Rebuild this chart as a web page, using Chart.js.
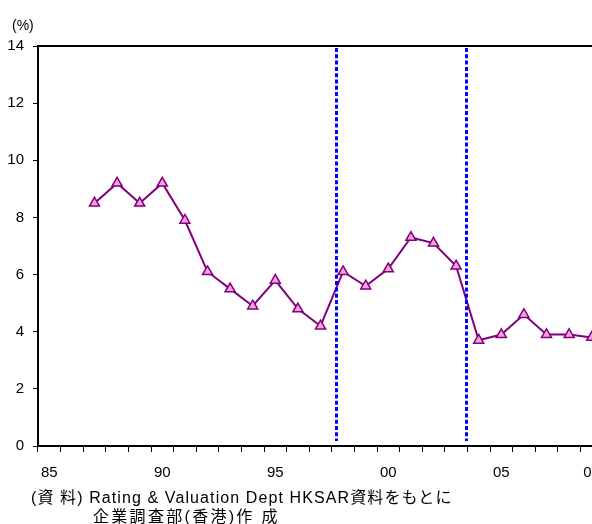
<!DOCTYPE html>
<html>
<head>
<meta charset="utf-8">
<script src="https://cdn.jsdelivr.net/npm/chart.js@4/dist/chart.umd.min.js"></script>
<style>
  html, body { margin: 0; padding: 0; background: #fff; overflow: hidden; width: 592px; height: 524px; }
  #wrap { position: relative; width: 592px; height: 524px; overflow: hidden; }
  #c { position: absolute; left: 0; top: 0; }
  .txt { position: absolute; white-space: pre; color: #000; line-height: 1; }
  #unit { left: 12px; top: 17px; font: 14px "Liberation Sans", "Noto Sans CJK JP", sans-serif; }
  .note { font: 16px "Liberation Sans", "Noto Sans CJK JP", sans-serif; }
  #note1 { left: 31px; top: 484px; letter-spacing: 1.1px; }
  #note2 { left: 93px; top: 503px; letter-spacing: 2.3px; }
</style>
</head>
<body>
<div id="wrap">
  <canvas id="c" width="620" height="524"></canvas>
  <div class="txt" id="unit">(%)</div>
  <div class="txt note" id="note1">(資 料) Rating &amp; Valuation Dept HKSAR資料をもとに</div>
  <div class="txt note" id="note2">企業調査部(香港)作 成</div>
</div>
<script>
// Years on the category axis (1985-2009)
const years = [1985, 1986, 1987, 1988, 1989, 1990, 1991, 1992, 1993, 1994,
               1995, 1996, 1997, 1998, 1999, 2000, 2001, 2002, 2003, 2004,
               2005, 2006, 2007, 2008, 2009];

// Rate (%) per year; no data for 1985-86
const rates = [null, null, 8.5, 9.2, 8.5, 9.2, 7.9, 6.1, 5.5, 4.9,
               5.8, 4.8, 4.2, 6.1, 5.6, 6.2, 7.3, 7.1, 6.3, 3.7,
               3.9, 4.6, 3.9, 3.9, 3.8];

// Years that get a label under the axis
const labeledYears = [1985, 1990, 1995, 2000, 2005, 2009];

// Vertical dotted event markers (fractional year positions)
const eventYears = [1997.7, 2003.45];

// Value axis range
const yMin = 0, yMax = 14, yStep = 2;

const frame = {
  id: 'frame',
  afterDatasetsDraw(chart) {
    const { ctx, chartArea, scales } = chart;
    const x = scales.x;
    // blue dotted event lines
    ctx.save();
    ctx.strokeStyle = '#0000ff';
    ctx.lineWidth = 3;
    ctx.setLineDash([4, 2.3]);
    eventYears.forEach(yr => {
      const px = Math.round(x.getPixelForValue(yr - years[0])) + 0.5;
      ctx.beginPath();
      ctx.moveTo(px, chartArea.top + 2);
      ctx.lineTo(px, chartArea.bottom - 5);
      ctx.stroke();
    });
    ctx.restore();
    // top edge of the plot frame
    ctx.save();
    ctx.strokeStyle = '#000';
    ctx.lineWidth = 2;
    ctx.beginPath();
    ctx.moveTo(chartArea.left - 1, chartArea.top);
    ctx.lineTo(chartArea.right, chartArea.top);
    ctx.stroke();
    ctx.restore();
  }
};

new Chart(document.getElementById('c'), {
  type: 'line',
  data: {
    labels: years.map(String),
    datasets: [{
      data: rates,
      borderColor: '#800080',
      borderWidth: 2,
      tension: 0,
      pointStyle: 'triangle',
      pointRadius: 5.8,
      pointBackgroundColor: '#f5a3d8',
      pointBorderColor: '#800080',
      pointBorderWidth: 1.5
    }]
  },
  options: {
    responsive: false,
    animation: false,
    devicePixelRatio: 1,
    layout: { padding: { top: 46, right: 17, left: 0, bottom: 0 } },
    plugins: { legend: { display: false }, tooltip: { enabled: false } },
    scales: {
      x: {
        type: 'category',
        offset: true,
        grid: { display: true, offset: true, drawOnChartArea: false, drawTicks: true, tickLength: 6, color: '#000', lineWidth: 1 },
        border: { display: true, color: '#000', width: 2 },
        ticks: {
          autoSkip: false,
          maxRotation: 0,
          padding: 12,
          color: '#000',
          font: { family: '"Liberation Sans", sans-serif', size: 15 },
          callback: (v, i) => labeledYears.includes(years[i]) ? String(years[i]).slice(2) : ''
        },
        afterFit: s => { s.height = 78; }
      },
      y: {
        min: yMin,
        max: yMax,
        grid: { display: true, drawOnChartArea: false, drawTicks: true, tickLength: 5, color: '#000', lineWidth: 1 },
        border: { display: true, color: '#000', width: 2 },
        ticks: {
          stepSize: yStep,
          padding: 9,
          color: '#000',
          font: { family: '"Liberation Sans", sans-serif', size: 15 }
        },
        afterFit: s => { s.width = 38; }
      }
    }
  },
  plugins: [frame]
});
</script>
</body>
</html>
